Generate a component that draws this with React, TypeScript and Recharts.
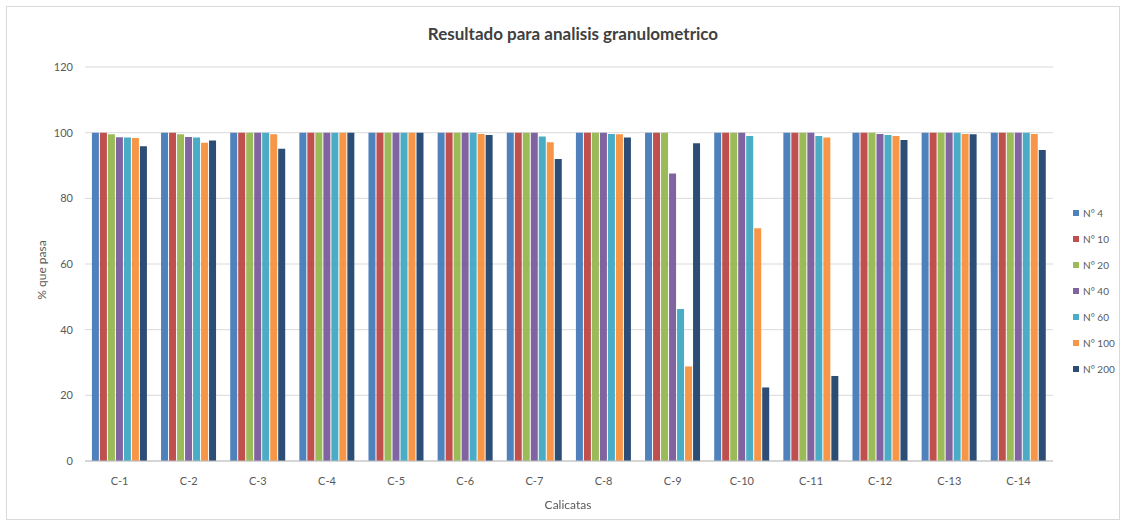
import React from 'react';
import { BarChart, Bar, XAxis, YAxis, CartesianGrid } from 'recharts';

const calicatas = ['C-1', 'C-2', 'C-3', 'C-4', 'C-5', 'C-6', 'C-7', 'C-8', 'C-9', 'C-10', 'C-11', 'C-12', 'C-13', 'C-14'];

const tamices = ['N° 4', 'N° 10', 'N° 20', 'N° 40', 'N° 60', 'N° 100', 'N° 200'];

const colores = ['#4F81BD', '#C0504D', '#9BBB59', '#8064A2', '#4BACC6', '#F79646', '#2C4D75'];

// % que pasa por cada tamiz, en el orden de calicatas
const n4 = [100, 100, 100, 100, 100, 100, 100, 100, 100, 100, 100, 100, 100, 100];
const n10 = [100, 100, 100, 100, 100, 100, 100, 100, 100, 100, 100, 100, 100, 100];
const n20 = [99.5, 99.5, 100, 100, 100, 100, 100, 100, 100, 100, 100, 100, 100, 100];
const n40 = [98.6, 98.7, 100, 100, 100, 100, 100, 100, 87.6, 100, 100, 99.6, 100, 100];
const n60 = [98.5, 98.5, 100, 100, 100, 100, 98.8, 99.6, 46.3, 99.0, 99.0, 99.3, 100, 100];
const n100 = [98.4, 96.9, 99.5, 100, 100, 99.6, 97.1, 99.5, 28.8, 70.9, 98.5, 99.0, 99.6, 99.6];
const n200 = [95.9, 97.6, 95.1, 100, 100, 99.3, 92.0, 98.5, 96.8, 22.4, 25.9, 97.8, 99.5, 94.7];

const yTicks = [0, 20, 40, 60, 80, 100, 120];

const series = [n4, n10, n20, n40, n60, n100, n200];

const data = calicatas.map((c, i) => {
  const row: Record<string, string | number> = { name: c };
  tamices.forEach((t, j) => {
    row[t] = series[j][i];
  });
  return row;
});

const font = 'Lato, "Open Sans", sans-serif';

export default function App() {
  return (
    <div style={{ position: 'fixed', left: 0, top: 0, width: 1126, height: 529, background: '#fff', fontFamily: font }}>
      <div style={{ position: 'absolute', left: 6, top: 6, width: 1114, height: 514, border: '1px solid #d9d9d9', boxSizing: 'border-box' }} />
      <div style={{ position: 'absolute', left: 0, width: 1146, top: 23, textAlign: 'center', fontSize: 17, fontWeight: 700, color: '#404040' }}>
        Resultado para analisis granulometrico
      </div>
      <BarChart
        width={1126}
        height={529}
        data={data}
        margin={{ top: 67, right: 73, bottom: 38, left: 0 }}
        barCategoryGap="10%"
        barGap={1}
      >
        <CartesianGrid vertical={false} stroke="#d9d9d9" />
        <XAxis
          dataKey="name"
          height={30}
          tickLine={false}
          axisLine={{ stroke: '#bfbfbf' }}
          tick={{ fill: '#595959', fontSize: 11, fontFamily: font }}
          tickMargin={10}
          interval={0}
        />
        <YAxis
          domain={[0, 120]}
          ticks={yTicks}
          width={85}
          axisLine={false}
          tickLine={false}
          tickSize={0}
          tickMargin={12}
          tick={{ fill: '#595959', fontSize: 11, fontFamily: font }}
        />
        {tamices.map((t, j) => (
          <Bar key={t} dataKey={t} fill={colores[j]} isAnimationActive={false} />
        ))}
      </BarChart>
      <div style={{ position: 'absolute', left: 0, width: 1136, top: 497, textAlign: 'center', fontSize: 12, color: '#595959' }}>
        Calicatas
      </div>
      <div
        style={{
          position: 'absolute',
          left: 41,
          top: 270,
          transform: 'translate(-50%, -50%) rotate(-90deg)',
          fontSize: 12,
          color: '#595959',
          whiteSpace: 'nowrap',
        }}
      >
        % que pasa
      </div>
      <div style={{ position: 'absolute', left: 1073, top: 200 }}>
        {tamices.map((t, j) => (
          <div key={t} style={{ display: 'flex', alignItems: 'center', height: 26, fontSize: 10, color: '#595959' }}>
            <span style={{ width: 6, height: 6, background: colores[j], marginRight: 4, display: 'inline-block' }} />
            {t}
          </div>
        ))}
      </div>
    </div>
  );
}
